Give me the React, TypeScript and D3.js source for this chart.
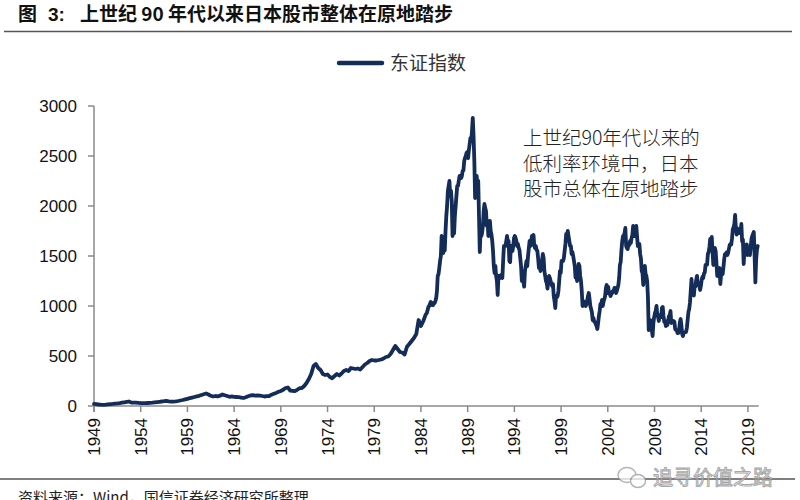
import React from "react";
import * as d3 from "d3";

// ---- Data ----
const titleText = "上世纪 90 年代以来日本股市整体在原地踏步";
const seriesName = "东证指数";
const annotationLines = ["上世纪90年代以来的", "低利率环境中，日本", "股市总体在原地踏步"];
const sourceText = "资料来源：Wind，国信证券经济研究所整理";
const watermarkText = "追寻价值之路";

const yTicks = [0, 500, 1000, 1500, 2000, 2500, 3000];
const xTickLabels = ["1949", "1954", "1959", "1964", "1969", "1974", "1979", "1984", "1989", "1994", "1999", "2004", "2009", "2014", "2019"];

// quarterly readings, mid-1949 .. end-1984
const earlyStart = 1949.37;
const earlyValues = [
  21, 18, 15,
  13, 12, 14, 17,
  19, 21, 24, 26,
  29, 33, 37, 41,
  45, 34, 33, 33,
  31, 29, 28, 29,
  30, 31, 33, 36,
  39, 42, 45, 48,
  52, 47, 43, 43,
  46, 50, 55, 60,
  66, 72, 78, 84,
  90, 96, 102, 110,
  118, 125, 115, 102,
  95, 100, 97, 103,
  115, 108, 100, 92,
  96, 92, 90, 88,
  84, 80, 88, 98,
  105, 108, 104, 106,
  104, 100, 95, 98,
  100, 113, 122, 131,
  142, 150, 162, 180,
  185, 155, 152, 148,
  162, 178, 180, 200,
  230, 270, 320, 400,
  420, 380, 360, 320,
  310, 315, 290, 278,
  300, 320, 305, 325,
  350, 360, 350, 380,
  375, 370, 375, 365,
  390, 415, 430, 450,
  460, 455, 455, 460,
  465, 475, 490, 495,
  520, 560, 600, 570,
  540, 535, 515, 593,
  620, 650, 680, 720,
  860, 800, 850, 913,
];

// monthly readings, Jan 1985 .. Jun 2020
const lateStart = 1985.0;
const lateValues = [
  930, 960, 990, 1000, 1020, 1040, 1030, 1010, 1010, 1030, 1030, 1049,
  1080, 1150, 1300, 1320, 1380, 1450, 1500, 1700, 1600, 1530, 1560, 1556,
  1750, 1900, 2000, 2150, 2200, 2250, 2100, 2150, 2050, 1700, 1750, 1726,
  1900, 2000, 2100, 2200, 2200, 2250, 2300, 2300, 2280, 2300, 2350, 2357,
  2450, 2480, 2500, 2530, 2540, 2480, 2560, 2620, 2680, 2650, 2750, 2881,
  2700, 2450, 2080, 2150, 2300, 2200, 2250, 1900, 1540, 1750, 1700, 1734,
  1800, 1950, 2020, 1980, 1950, 1800, 1850, 1700, 1800, 1850, 1750, 1715,
  1650, 1550, 1400, 1330, 1400, 1300, 1250, 1110, 1300, 1280, 1280, 1308,
  1300, 1280, 1450, 1600, 1600, 1600, 1650, 1700, 1650, 1650, 1450, 1439,
  1600, 1600, 1550, 1600, 1680, 1700, 1680, 1650, 1600, 1620, 1580, 1559,
  1480, 1400, 1250, 1300, 1250, 1193, 1350, 1400, 1450, 1400, 1500, 1578,
  1650, 1600, 1650, 1700, 1690, 1710, 1600, 1580, 1600, 1560, 1550, 1471,
  1380, 1400, 1350, 1400, 1460, 1520, 1480, 1350, 1300, 1250, 1230, 1175,
  1250, 1300, 1280, 1250, 1220, 1200, 1220, 1100, 1050, 980, 1100, 1087,
  1100, 1150, 1250, 1350, 1330, 1450, 1450, 1450, 1480, 1550, 1620, 1722,
  1700, 1750, 1700, 1650, 1600, 1600, 1520, 1540, 1500, 1450, 1400, 1284,
  1300, 1250, 1300, 1420, 1400, 1300, 1250, 1150, 1000, 1050, 1030, 1032,
  1000, 1020, 1060, 1100, 1130, 1070, 1000, 970, 940, 860, 880, 843,
  840, 820, 800, 770, 830, 900, 950, 1020, 1020, 1060, 1000, 1044,
  1070, 1100, 1180, 1210, 1130, 1190, 1130, 1120, 1100, 1120, 1130, 1150,
  1150, 1180, 1180, 1130, 1150, 1180, 1210, 1280, 1410, 1440, 1560, 1650,
  1700, 1700, 1730, 1780, 1600, 1580, 1570, 1620, 1610, 1650, 1630, 1681,
  1710, 1800, 1720, 1700, 1750, 1800, 1700, 1600, 1620, 1620, 1520, 1476,
  1350, 1330, 1210, 1330, 1400, 1320, 1300, 1250, 1090, 760, 830, 859,
  790, 760, 700, 830, 890, 930, 950, 1000, 910, 890, 850, 908,
  900, 890, 980, 990, 900, 840, 850, 800, 830, 810, 860, 899,
  910, 950, 830, 850, 840, 850, 840, 770, 760, 760, 730, 729,
  760, 835, 870, 805, 720, 700, 735, 735, 740, 740, 780, 860,
  940, 970, 1035, 1150, 1270, 1135, 1130, 1105, 1195, 1195, 1260, 1302,
  1220, 1210, 1200, 1160, 1200, 1260, 1290, 1280, 1325, 1335, 1410, 1408,
  1415, 1520, 1540, 1590, 1670, 1630, 1690, 1540, 1410, 1560, 1580, 1547,
  1430, 1300, 1350, 1340, 1380, 1220, 1320, 1330, 1320, 1390, 1470, 1519,
  1520, 1535, 1510, 1530, 1570, 1610, 1620, 1615, 1675, 1765, 1790, 1818,
  1910, 1770, 1715, 1775, 1750, 1730, 1755, 1735, 1820, 1645, 1665, 1420,
  1565, 1605, 1590, 1615, 1510, 1550, 1565, 1510, 1590, 1670, 1700, 1721,
  1740, 1510, 1236, 1465, 1560, 1600,
];

type Pt = { t: number; v: number };
const points: Pt[] = [
  ...earlyValues.map((v, i) => ({ t: earlyStart + i * 0.25, v })),
  ...lateValues.map((v, i) => ({ t: lateStart + i / 12, v })),
];

export default function App() {
  const W = 800, H = 500;
  const x0 = 94, x1 = 757.7;
  const y0 = 406, y1 = 106;
  const firstT = earlyStart;
  const lastT = lateStart + (lateValues.length - 1) / 12;
  const x = d3.scaleLinear().domain([firstT, lastT]).range([x0, x1]);
  const y = d3.scaleLinear().domain([0, 3000]).range([y0, y1]);
  const line = d3.line<Pt>().x((d) => x(d.t)).y((d) => y(d.v)).curve(d3.curveLinear);
  const axisColor = "#8a8a8a";
  const lineColor = "#142c58";
  const font = "'Liberation Sans', Arial, sans-serif";
  const cjk = "'Noto Sans CJK SC', 'Noto Sans', sans-serif";

  return (
    <svg width={W} height={H} style={{ position: "absolute", left: 0, top: 0, background: "#fff" }}>
      <rect x={0} y={0} width={W} height={H} fill="#fff" />
      {/* title */}
      <g fontFamily={cjk} fontWeight={700} fontSize={19} fill="#111">
        <text x={18} y={21}>图</text>
        <text x={48} y={21} fontFamily={font}>3:</text>
        <text x={80} y={21}>{titleText}</text>
      </g>
      <line x1={4} x2={792} y1={31.5} y2={31.5} stroke="#555" strokeWidth={1.5} />

      {/* legend */}
      <line x1={339} x2={382} y1={63} y2={63} stroke={lineColor} strokeWidth={4.5} strokeLinecap="round" />
      <text x={390} y={70} fontFamily={cjk} fontSize={19} fill="#333">{seriesName}</text>

      {/* y axis */}
      <line x1={x0} x2={x0} y1={y1} y2={y0 + 6} stroke={axisColor} strokeWidth={1.5} />
      {yTicks.map((t) => (
        <g key={t}>
          <line x1={x0 - 6} x2={x0} y1={y(t)} y2={y(t)} stroke={axisColor} strokeWidth={1.5} />
          <text x={77} y={y(t) + 6} textAnchor="end" fontFamily={font} fontSize={17} fill="#111">{t}</text>
        </g>
      ))}

      {/* x axis */}
      <line x1={x0} x2={x1 + 1} y1={y0} y2={y0} stroke={axisColor} strokeWidth={1.5} />
      {xTickLabels.map((lab, i) => {
        const tx = x(firstT + i * 5);
        return (
          <g key={lab}>
            <line x1={tx} x2={tx} y1={y0} y2={y0 + 6} stroke={axisColor} strokeWidth={1.5} />
            <text
              transform={`translate(${tx + 6},${y0 + 12}) rotate(-90)`}
              textAnchor="end"
              fontFamily={font}
              fontSize={17}
              fill="#111"
            >
              {lab}
            </text>
          </g>
        );
      })}

      {/* series */}
      <path d={line(points) || ""} fill="none" stroke={lineColor} strokeWidth={3.8} strokeLinejoin="round" strokeLinecap="round" />

      {/* annotation */}
      <g fontFamily={cjk} fontSize={19.5} fill="#222" fontWeight={300}>
        {annotationLines.map((s, i) => (
          <text key={i} x={523} y={145 + i * 25.5}>{s}</text>
        ))}
      </g>

      {/* bottom rule, watermark and source */}
      <line x1={0} x2={795} y1={479} y2={479} stroke="#555" strokeWidth={1.5} />
      <g opacity={0.75}>
        <ellipse cx={627} cy={475} rx={9} ry={7.5} fill="#fff" stroke="#9a9a9a" strokeWidth={1.4} />
        <ellipse cx={638} cy={481} rx={7.5} ry={6.5} fill="#fff" stroke="#9a9a9a" strokeWidth={1.4} />
        <text x={653} y={485} fontFamily={cjk} fontSize={20} fill="#fff" stroke="#8a8a8a" strokeWidth={1}>{watermarkText}</text>
      </g>
      <text x={18} y={503} fontFamily={cjk} fontSize={15} fill="#222">{sourceText}</text>
    </svg>
  );
}
